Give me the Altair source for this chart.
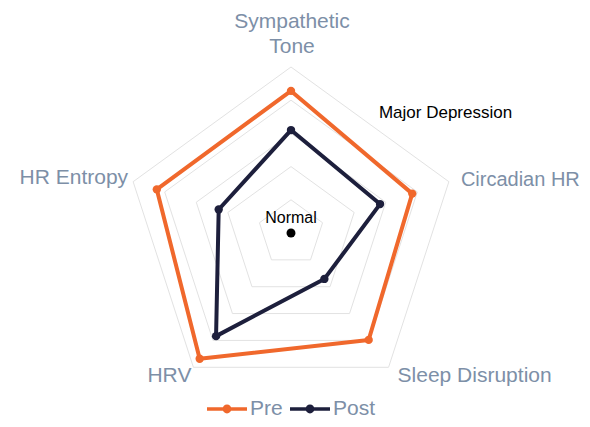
import altair as alt
import pandas as pd

# ---- data ----
categories = ["Sympathetic Tone", "Circadian HR", "Sleep Disruption", "HRV", "HR Entropy"]
pre_values = [4.28, 3.84, 3.98, 4.68, 4.25]
post_values = [3.10, 2.82, 1.71, 3.84, 2.29]
series_names = ["Pre", "Post"]
series_colors = ["#f0682c", "#1d1f3c"]
grid_levels = [1, 2, 3, 4, 5]
annotation_labels = ["Normal", "Major Depression"]
annotation_levels = [0, 5]

N = len(categories)
MAXL = max(grid_levels)

rows = []
for name, vals in zip(series_names, [pre_values, post_values]):
    for i in range(N + 1):
        rows.append({"series": name, "category": categories[i % N], "idx": i, "value": vals[i % N]})
series_df = pd.DataFrame(rows)

grid_rows = []
for lv in grid_levels:
    for i in range(N + 1):
        grid_rows.append({"level": lv, "idx": i, "value": lv})
grid_df = pd.DataFrame(grid_rows)

label_df = pd.DataFrame({"category": categories, "idx": list(range(N)), "value": [MAXL] * N})

# ---- geometry ----
W, H = 574, 411
CX, CY = 283, 225
UNIT = 33.2
xdom = [-CX / UNIT, (W - CX) / UNIT]
ydom = [-(H - CY) / UNIT, CY / UNIT]

FONT = "Liberation Sans"
LABEL_COLOR = "#7d8fa7"

xs = alt.X("px:Q", scale=alt.Scale(domain=xdom, nice=False, zero=False), axis=None)
ys = alt.Y("py:Q", scale=alt.Scale(domain=ydom, nice=False, zero=False), axis=None)


def polar(ch):
    return ch.transform_calculate(
        ang="PI/2 - 2*PI*datum.idx/%d" % N
    ).transform_calculate(
        px="datum.value*cos(datum.ang)", py="datum.value*sin(datum.ang)"
    )


grid = polar(alt.Chart(grid_df).mark_line(color="#e2e2e2", strokeWidth=1)).encode(
    x=xs, y=ys, detail="level:N", order="idx:Q"
)

color_scale = alt.Scale(domain=series_names, range=series_colors)

legend_symbol = (
    "M-1,-0.09H1V0.09H-1Z "
    "M-0.22,0A0.22,0.22 0 1,1 0.22,0A0.22,0.22 0 1,1 -0.22,0Z"
)
legend = alt.Legend(
    title=None, orient="none", direction="horizontal",
    legendX=199, legendY=381,
    symbolType=legend_symbol, symbolSize=1600, symbolStrokeWidth=0,
    labelFont=FONT, labelFontSize=21, labelColor=LABEL_COLOR,
    labelOffset=3, columnPadding=7, padding=0,
)

lines = polar(alt.Chart(series_df).mark_line(strokeWidth=4, strokeJoin="round")).encode(
    x=xs, y=ys, order="idx:Q", detail="series:N",
    color=alt.Color("series:N", scale=color_scale, legend=legend),
)

points = polar(
    alt.Chart(series_df).mark_point(filled=True, size=70, opacity=1).transform_filter("datum.idx < %d" % N)
).encode(
    x=xs, y=ys,
    color=alt.Color("series:N", scale=color_scale, legend=legend),
)

# axis label placement (styling offsets per label)
label_styles = [
    ("Sympathetic Tone", "center", "alphabetic", 1, -39, ["Sympathetic", "Tone"], 21),
    ("Circadian HR", "left", "middle", 12, -2, None, 20),
    ("Sleep Disruption", "left", "middle", 9, 9, None, 21),
    ("HRV", "right", "middle", -2, 9, None, 21),
    ("HR Entropy", "right", "middle", -5, -4, None, 21),
]
label_layers = []
for cat, align, base, dx, dy, lines_txt, fs in label_styles:
    ch = polar(
        alt.Chart(label_df).mark_text(
            align=align, baseline=base, dx=dx, dy=dy, font=FONT, fontSize=fs,
            color=LABEL_COLOR, lineHeight=25, lineBreak="|",
        ).transform_filter(alt.datum.category == cat)
    )
    if lines_txt:
        ch = ch.transform_calculate(txt="'" + "|".join(lines_txt) + "'")
    else:
        ch = ch.transform_calculate(txt="datum.category")
    label_layers.append(ch.encode(x=xs, y=ys, text="txt:N"))

# center "Normal" dot + annotations
ann_df = pd.DataFrame({"label": annotation_labels, "value": annotation_levels})

center_dot = alt.Chart(ann_df).mark_point(filled=True, size=80, color="black", opacity=1).transform_filter(
    "datum.value == 0"
).transform_calculate(px="0", py="0").encode(x=xs, y=ys)

normal_txt = alt.Chart(ann_df).mark_text(
    align="center", baseline="alphabetic", dy=-10, font=FONT, fontSize=16, color="black"
).transform_filter("datum.value == 0").transform_calculate(px="0", py="0").encode(
    x=xs, y=ys, text="label:N"
)

# Major Depression placed at the middle of the outer ring's top-right edge
major_txt = alt.Chart(ann_df).mark_text(
    align="left", baseline="middle", dx=9, dy=-11, font=FONT, fontSize=17, color="black"
).transform_filter("datum.value > 0").transform_calculate(
    ang="PI/2 - PI/%d" % N, rr="datum.value*cos(PI/%d)" % N
).transform_calculate(
    px="datum.rr*cos(datum.ang)", py="datum.rr*sin(datum.ang)"
).encode(x=xs, y=ys, text="label:N")

chart = alt.layer(
    grid, lines, points, *label_layers, center_dot, normal_txt, major_txt
).properties(
    width=W, height=H, autosize=alt.AutoSizeParams(type="none"), padding=0,
    background="white",
).configure_view(stroke=None)

chart.save("out.html", embed_options={"renderer": "svg", "actions": False})
